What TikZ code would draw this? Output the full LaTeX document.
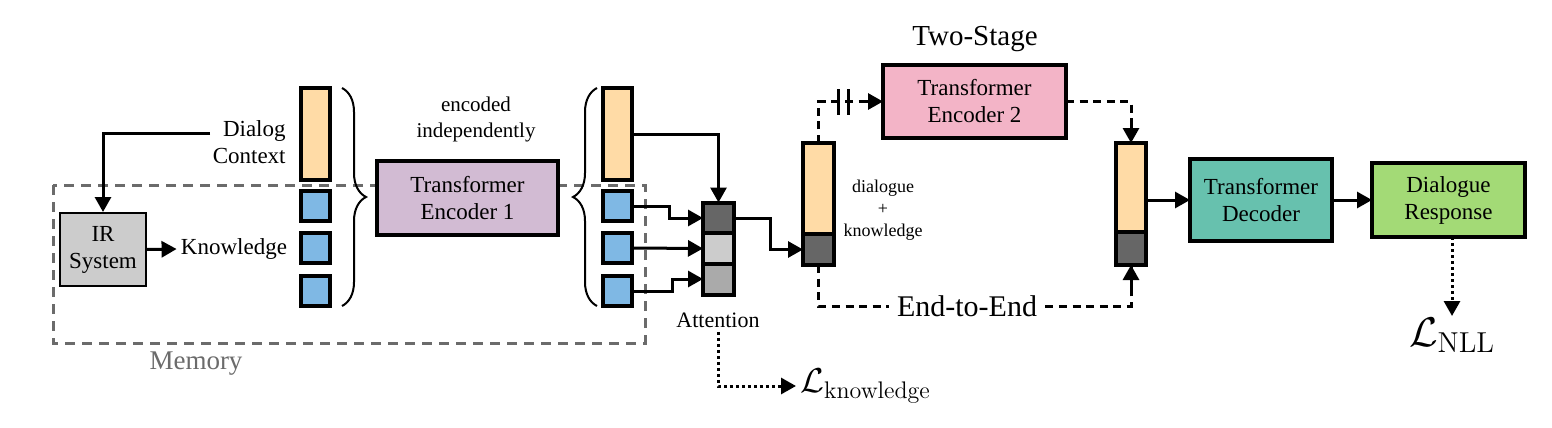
\documentclass[tikz,border=0pt]{standalone}
\usepackage[no-math]{fontspec}
\setmainfont{Liberation Serif}
\usetikzlibrary{arrows.meta,decorations.pathreplacing,calc}
\definecolor{corange}{HTML}{FFDBA6}
\definecolor{cblue}{HTML}{7FB8E4}
\definecolor{cpurple}{HTML}{D2BBD3}
\definecolor{cpink}{HTML}{F3B4C7}
\definecolor{cteal}{HTML}{67C1AE}
\definecolor{cgreen}{HTML}{A3DA76}
\definecolor{gdark}{HTML}{666666}
\definecolor{glight}{HTML}{CCCCCC}
\definecolor{gmid}{HTML}{AAAAAA}
\definecolor{memgray}{HTML}{6B6B6B}
\tikzset{
  fsz/.style={font=\fontsize{#1}{#1}\selectfont},
  cell/.style={draw=black, line width=2pt, inner sep=0pt, outer sep=0pt, minimum width=14.5pt},
  bigbox/.style={draw=black, line width=2pt, inner sep=0pt, outer sep=0pt, align=center, font=\fontsize{11.5}{13.5}\selectfont},
  tip/.style={-{Triangle[length=7.5pt,width=8pt]}},
  conn/.style={line width=1.5pt, tip},
  dashconn/.style={line width=1.5pt, dash pattern=on 4pt off 2.8pt},
  dotconn/.style={line width=1.5pt, dash pattern=on 1.5pt off 1.5pt},
  txt/.style={inner sep=2pt, font=\fontsize{11.5}{13.5}\selectfont, align=center},
  bracestyle/.style={line width=1pt, decorate, decoration={brace, amplitude=12pt}},
}
\begin{document}
\begin{tikzpicture}[x=0.5pt,y=-0.5pt]
\useasboundingbox (0,0) rectangle (1552,428);

% Memory box
\draw[memgray, line width=1.5pt, dash pattern=on 5pt off 3.5pt] (53,185) rectangle (645,343);
\node[memgray, fsz=13.5] (memlbl) at (196,364) {Memory};

% IR system
\node[draw=black, line width=1pt, fill=glight, minimum width=43pt, minimum height=36.5pt, inner sep=0pt, align=center, font=\fontsize{11.5}{13.5}\selectfont] (ir) at (103,249.5) {IR\\System};
\node[txt] (know) at (234,249) {Knowledge};
\node[txt, align=right, anchor=east] (dc) at (290,142) {Dialog\\Context};
\coordinate (dcend) at (210,133);
\draw[conn] (dcend) -| (ir.north);
\draw[conn] (ir.east) -- (know.west);

% left column
\node[cell, fill=corange, minimum height=46pt] (o1) at (315.5,134) {};
\node[cell, fill=cblue, minimum height=15pt] (b11) at (315.5,206) {};
\node[cell, fill=cblue, minimum height=15pt] (b12) at (315.5,248) {};
\node[cell, fill=cblue, minimum height=15pt] (b13) at (315.5,291) {};
\coordinate (br1a) at (342,88);
\coordinate (br1b) at (342,306);
\draw[bracestyle] (br1a) -- (br1b);

% encoded independently
\node[inner sep=0pt, align=center, font=\fontsize{10.5}{13}\selectfont] (encind) at (476,119) {encoded\\independently};

% Encoder 1
\node[bigbox, fill=cpurple, minimum width=90.5pt, minimum height=37pt] (enc1) at (467.5,198) {Transformer\\Encoder 1};

% right column
\coordinate (br2a) at (597,306);
\coordinate (br2b) at (597,88);
\draw[bracestyle] (br2a) -- (br2b);
\node[cell, fill=corange, minimum height=46pt] (o2) at (617,134) {};
\node[cell, fill=cblue, minimum height=15pt] (b21) at (617,206) {};
\node[cell, fill=cblue, minimum height=15pt] (b22) at (617,248) {};
\node[cell, fill=cblue, minimum height=15pt] (b23) at (617,291) {};

% Attention
\node[cell, fill=gdark, minimum width=15.5pt, minimum height=15.5pt] (a1) at (718.5,218) {};
\node[cell, fill=glight, minimum width=15.5pt, minimum height=15.5pt] (a2) at (718.5,248.5) {};
\node[cell, fill=gmid, minimum width=15.5pt, minimum height=15.5pt] (a3) at (718.5,279) {};
\node[txt, font=\fontsize{11}{13}\selectfont] (att) at (718,320) {Attention};
\draw[conn] (o2.east) -| (a1.north);
\draw[conn] (b21.east) -- ++(38,0) |- (a1.west);
\draw[conn] (b22.east) -- (a2.west);
\draw[conn] (b23.east) -- ++(41,0) |- (a3.west);

\node[anchor=west, inner sep=2pt, font=\fontsize{17.5}{20}\selectfont] (lk) at (796,386) {$\mathcal{L}_{\mathrm{knowledge}}$};
\draw[dotconn, tip] (att.south) |- (lk.west);

% middle bar
\node[cell, fill=corange, minimum width=15.5pt, minimum height=45.5pt] (mO) at (818.5,188.5) {};
\node[cell, fill=gdark, minimum width=15.5pt, minimum height=15.5pt] (mD) at (818.5,249.5) {};
\draw[conn] (a1.east) -- ++(36,0) |- (mD.west);
\node[inner sep=0pt, align=center, font=\fontsize{9}{11}\selectfont] (dk) at (883,210) {dialogue\\+\\knowledge};

% Two-stage
\node[fsz=14.5] (ts) at (975,39) {Two-Stage};
\node[bigbox, fill=cpink, minimum width=91.5pt, minimum height=36.5pt] (enc2) at (974.5,101.5) {Transformer\\Encoder 2};
\draw[dashconn] (mO.north) |- (enc2.west);
\coordinate (e2in) at (860,101.5);
\draw[line width=1.5pt, tip] (e2in) -- (enc2.west);
\coordinate (bk1a) at (838,89); \coordinate (bk1b) at (838,115);
\coordinate (bk2a) at (848,89); \coordinate (bk2b) at (848,115);
\draw[line width=1.5pt] (bk1a) -- (bk1b);
\draw[line width=1.5pt] (bk2a) -- (bk2b);

% right bar
\node[cell, fill=corange, minimum width=15pt, minimum height=44.5pt] (rO) at (1131,187.5) {};
\node[cell, fill=gdark, minimum width=15pt, minimum height=16.5pt] (rD) at (1131,248.5) {};
\draw[dashconn] (enc2.east) -| (rO.north);
\coordinate (rin1) at (1131,126);
\draw[line width=1.5pt, tip] (rin1) -- (rO.north);

% End-to-End
\node[inner sep=4pt, fsz=15] (e2e) at (967,306) {End-to-End};
\draw[dashconn] (mD.south) |- (e2e.west);
\draw[dashconn] (e2e.east) -| (rD.south);
\coordinate (rin2) at (1131,288);
\draw[line width=1.5pt, tip] (rin2) -- (rD.south);

% decoder and response
\node[bigbox, fill=cteal, minimum width=71pt, minimum height=41pt] (dec) at (1261,200) {Transformer\\Decoder};
\node[bigbox, fill=cgreen, minimum width=76.5pt, minimum height=37pt] (resp) at (1448.5,200) {Dialogue\\Response};
\draw[conn] (dec.west -| rO.east) -- (dec.west);
\draw[conn] (dec.east) -- (resp.west);
\node[anchor=north, inner sep=1pt, font=\fontsize{20}{24}\selectfont] (lnll) at (1452,316) {$\mathcal{L}_{\mathrm{NLL}}$};
\draw[dotconn, tip] (resp.south -| lnll.north) -- (lnll.north);
\end{tikzpicture}
\end{document}
